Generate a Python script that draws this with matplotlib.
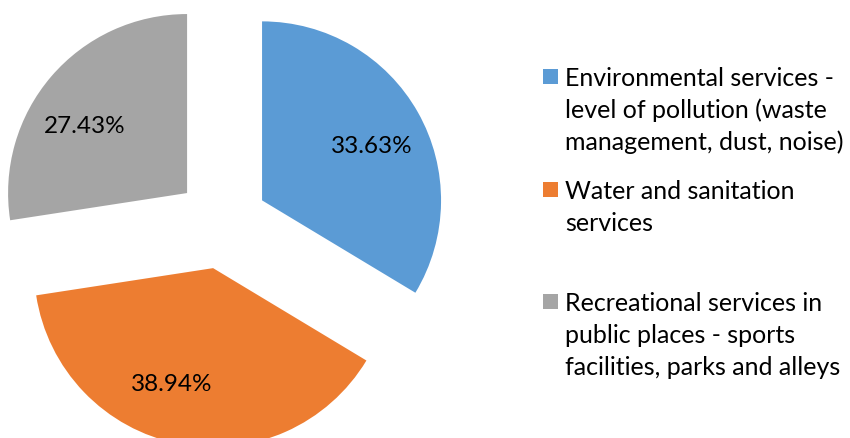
import numpy as np
import matplotlib.pyplot as plt
from matplotlib.patches import Rectangle

plt.rcParams['font.family'] = ['Lato', 'DejaVu Sans']

labels = ['Environmental services -\nlevel of pollution (waste\nmanagement, dust, noise)',
          'Water and sanitation\nservices',
          'Recreational services in\npublic places - sports\nfacilities, parks and alleys']
shares = [33.63, 38.94, 27.43]
colors = ['#5B9BD5', '#ED7D31', '#A5A5A5']

W, H = 850, 439
fig = plt.figure(figsize=(W / 100, H / 100), dpi=100)
ax = fig.add_axes([0, 0, 1, 1])

# pie centre and radius in pixels
cx, cy, R = 222, 224, 179
wedges, _ = ax.pie(shares, colors=colors, startangle=90, counterclock=False,
                   explode=[0.257] * 3, wedgeprops={'linewidth': 0})
ax.set_aspect('equal')
ax.set_xlim(-cx / R, (W - cx) / R)
ax.set_ylim((cy - H) / R, cy / R)
ax.axis('off')

# percentage labels, nudged off the mid-angle a little
label_shift = [-3.0, -8.5, 7.0]
for w, v, s in zip(wedges, shares, label_shift):
    a = np.deg2rad((w.theta1 + w.theta2) / 2 + s)
    x = w.center[0] + 0.685 * np.cos(a)
    y = w.center[1] + 0.685 * np.sin(a)
    ax.text(x, y, f'{v:.2f}%', ha='center', va='center', fontsize=17.5, color='black')

# legend drawn by hand: square next to the first line of each label
def px(x, y):
    return x / W, 1 - y / H

first_baselines = [86, 199, 311]
line_gap = 32
for lab, c, b in zip(labels, colors, first_baselines):
    x0, y0 = px(543, b - 1)
    fig.add_artist(Rectangle((x0, y0), 15 / W, 15 / H, facecolor=c, edgecolor='none',
                             transform=fig.transFigure))
    for i, line in enumerate(lab.split('\n')):
        fig.text(*px(565, b + i * line_gap), line, fontsize=18, va='baseline', ha='left',
                 color='black')

fig.savefig('out.png', dpi=100)
